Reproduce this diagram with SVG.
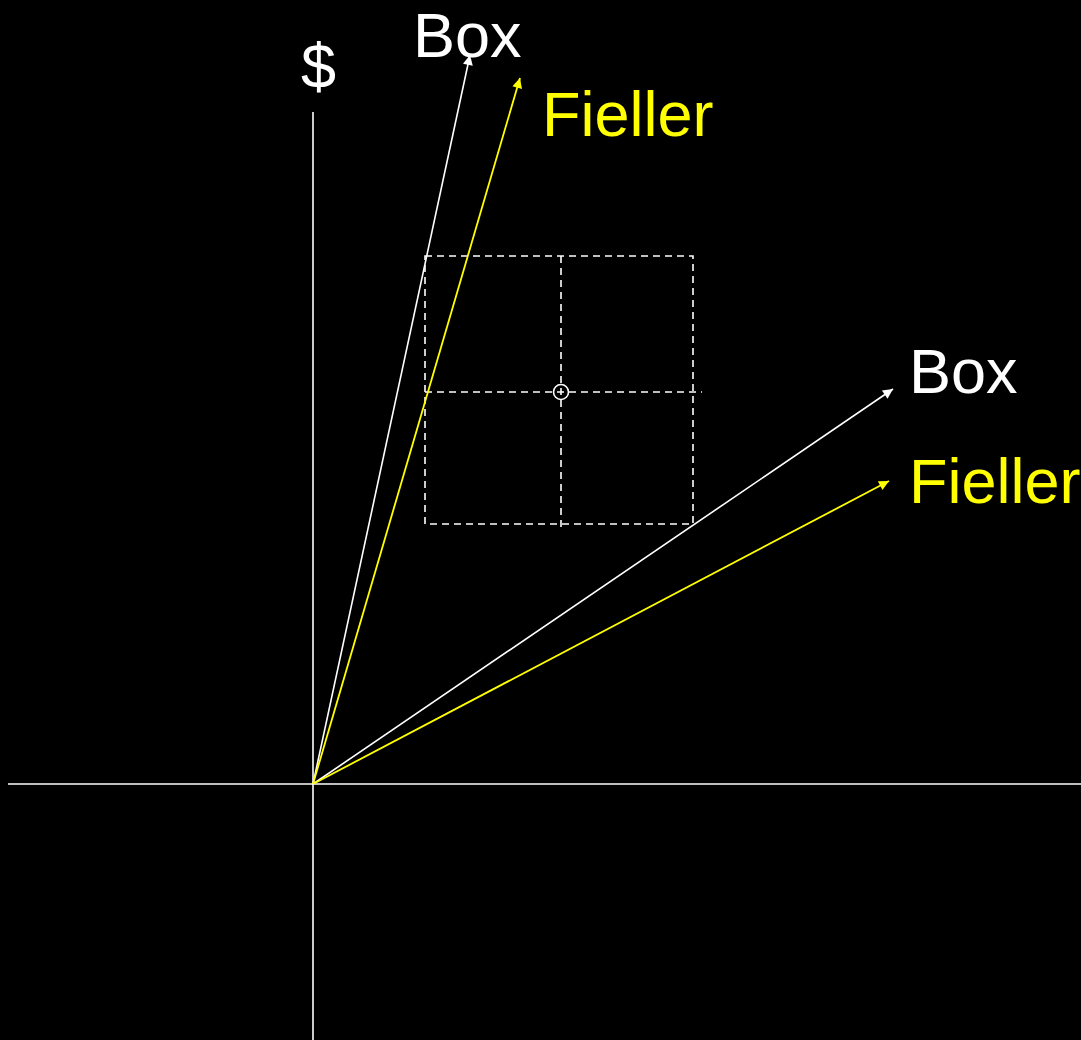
<svg xmlns="http://www.w3.org/2000/svg" width="1081" height="1040" viewBox="0 0 1081 1040">
<style>
.ax{stroke:#fff;stroke-width:1.6;fill:none}
.w{stroke:#fff;stroke-width:1.6;fill:none}
.y{stroke:#ff0;stroke-width:1.8;fill:none}
.d{stroke:#fff;stroke-width:1.6;fill:none;stroke-dasharray:7 5}
text{font-family:"Liberation Sans",Arial,sans-serif;font-size:63px}
</style>
<defs>
<marker id="aw" viewBox="0 0 10 10" refX="10" refY="5" markerWidth="13" markerHeight="10" markerUnits="userSpaceOnUse" orient="auto"><path d="M0,0 L10,5 L0,10 z" fill="#fff"/></marker>
<marker id="ay" viewBox="0 0 10 10" refX="10" refY="5" markerWidth="13" markerHeight="10" markerUnits="userSpaceOnUse" orient="auto"><path d="M0,0 L10,5 L0,10 z" fill="#ff0"/></marker>
</defs>
<rect width="1081" height="1040" fill="#000"/>
<g id="axes">
<line class="ax" x1="313" y1="112" x2="313" y2="1040"/>
<line class="ax" x1="8" y1="784" x2="1081" y2="784"/>
</g>
<g id="box-region">
<rect class="d" x="425" y="256" width="268" height="268"/>
<line class="d" x1="561" y1="256" x2="561" y2="528"/>
<line class="d" x1="425" y1="392" x2="702" y2="392"/>
<circle cx="561" cy="392" r="7.5" class="w"/>
</g>
<g id="connectors">
<line class="w" x1="313" y1="784" x2="470" y2="55" marker-end="url(#aw)"/>
<line class="y" x1="313" y1="784" x2="520" y2="78" marker-end="url(#ay)"/>
<line class="w" x1="313" y1="784" x2="893" y2="389" marker-end="url(#aw)"/>
<line class="y" x1="313" y1="784" x2="889" y2="481" marker-end="url(#ay)"/>
</g>
<g id="labels">
<text x="301" y="88" fill="#fff">$</text>
<text x="413" y="57" fill="#fff">Box</text>
<text x="542" y="136" fill="#ff0">Fieller</text>
<text x="909" y="393" fill="#fff">Box</text>
<text x="909" y="503" fill="#ff0">Fieller</text>
</g>
</svg>
